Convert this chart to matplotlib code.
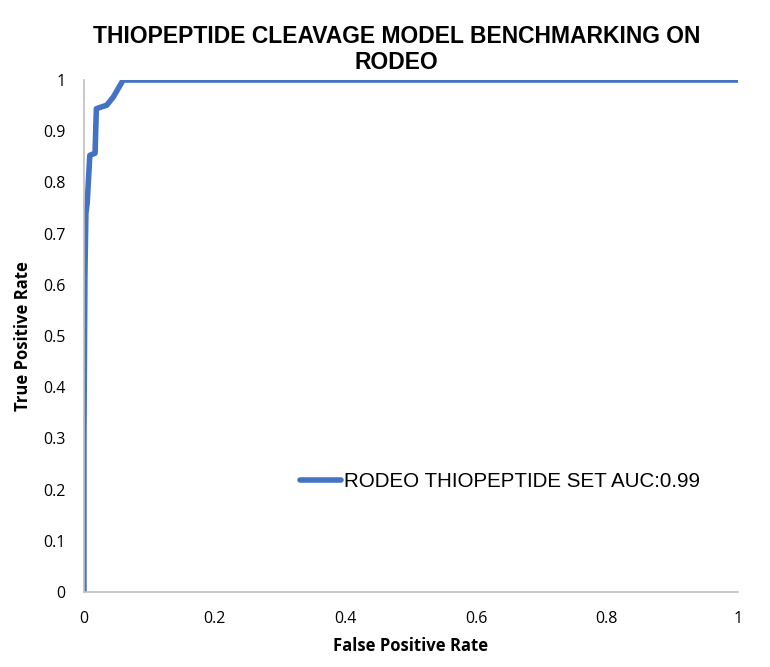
import matplotlib
matplotlib.use('Agg')
import matplotlib.pyplot as plt

# ROC curve points
fpr = [0.0, 0.0, 0.0015, 0.003, 0.005, 0.009, 0.017, 0.019, 0.035, 0.045, 0.06, 1.0]
tpr = [0.0, 0.30, 0.62, 0.74, 0.76, 0.853, 0.857, 0.944, 0.951, 0.967, 1.0, 1.0]

xticks = [0, 0.2, 0.4, 0.6, 0.8, 1]
yticks = [0, 0.1, 0.2, 0.3, 0.4, 0.5, 0.6, 0.7, 0.8, 0.9, 1]

fig = plt.figure(figsize=(7.7, 6.67), dpi=100)
ax = fig.add_axes([0.109, 0.1124, 0.849, 0.7676])

ax.plot(fpr, tpr, color='#4472C4', lw=4, solid_capstyle='round',
        label='RODEO THIOPEPTIDE SET AUC:0.99')

ax.set_xlim(0, 1)
ax.set_ylim(0, 1)
ax.set_xticks(xticks)
ax.set_xticklabels(['%g' % t for t in xticks])
ax.set_yticks(yticks)
ax.set_yticklabels(['%g' % t for t in yticks])
ax.tick_params(length=0, labelsize=11.5)
ax.tick_params(axis='y', pad=13)
ax.tick_params(axis='x', pad=14)
for lbl in ax.get_xticklabels() + ax.get_yticklabels():
    lbl.set_family('Open Sans')

for s in ['top', 'right']:
    ax.spines[s].set_visible(False)
for s in ['left', 'bottom']:
    ax.spines[s].set_color('#BFBFBF')
    ax.spines[s].set_linewidth(1.2)

ax.set_xlabel('False Positive Rate', fontsize=12, fontweight='bold',
              family='Open Sans', labelpad=7)
ax.set_ylabel('True Positive Rate', fontsize=12, fontweight='bold',
              family='Open Sans', labelpad=8)
fig.suptitle('THIOPEPTIDE CLEAVAGE MODEL BENCHMARKING ON\nRODEO',
             x=0.515, y=0.962, fontsize=16.5, fontweight='bold',
             family='Liberation Sans', linespacing=1.15)

ax.legend(loc='center left', bbox_to_anchor=(0.302, 0.215), frameon=False,
          handlelength=2.0, handletextpad=0.15,
          prop={'family': 'Liberation Sans', 'size': 14.8})

fig.savefig('out.png', dpi=100)
